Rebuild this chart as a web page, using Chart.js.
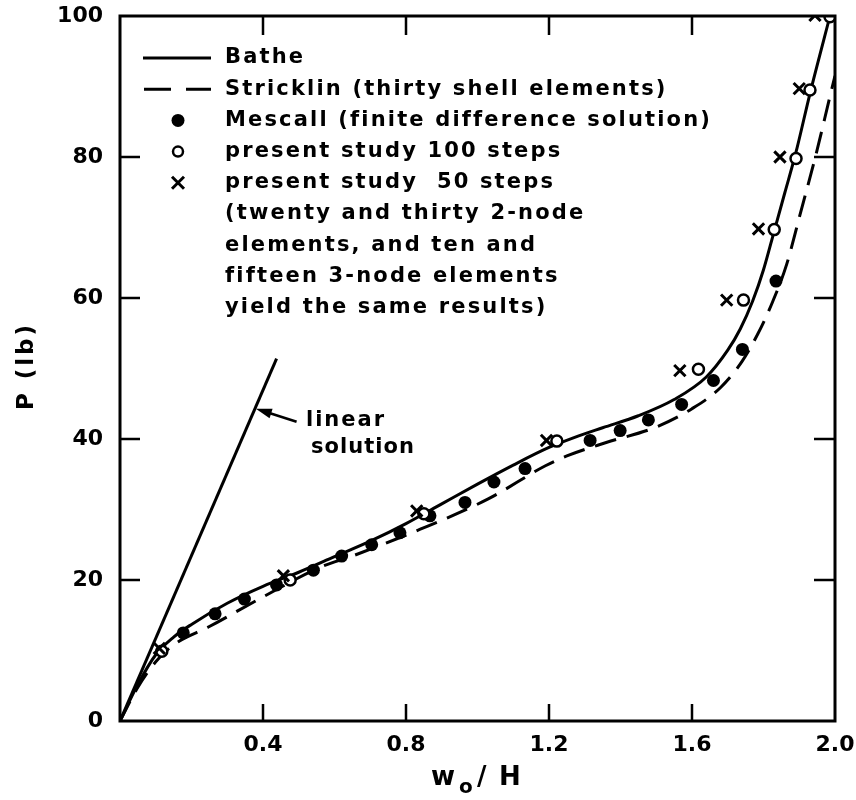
<!DOCTYPE html>
<html>
<head>
<meta charset="utf-8">
<script src="https://cdn.jsdelivr.net/npm/chart.js"></script>
<style>
  body { margin: 0; background: #fff; }
  canvas { display: block; }
</style>
</head>
<body>
<canvas id="chart" width="856" height="800"></canvas>
<script>
// Courbes (w0/H, P en lb)
const batheX = [0, 0.05, 0.1, 0.15, 0.2, 0.3, 0.4, 0.5, 0.6, 0.7, 0.8, 0.9, 1.0, 1.1, 1.2, 1.27, 1.35, 1.45, 1.55, 1.64, 1.7, 1.735, 1.77, 1.8, 1.83, 1.86, 1.89, 1.93, 1.986];
const batheP = [0, 5.2, 9.4, 11.9, 13.7, 16.7, 19.1, 21.1, 23.3, 25.5, 28.0, 30.8, 33.6, 36.3, 38.8, 40.2, 41.6, 43.3, 45.6, 48.8, 52.6, 55.6, 59.6, 64.0, 69.5, 75.0, 80.5, 89.0, 100];

const stricklinX = [0, 0.05, 0.1, 0.15, 0.25, 0.4, 0.56, 0.65, 0.84, 1.03, 1.19, 1.25, 1.36, 1.5, 1.6, 1.68, 1.74, 1.785, 1.825, 1.865, 1.9, 1.95, 1.985, 2.0];
const stricklinP = [0, 4.8, 8.4, 10.8, 13.4, 17.6, 21.8, 23.4, 27.2, 31.5, 36.2, 37.6, 39.5, 41.7, 44.3, 47.3, 51.0, 55.0, 59.4, 64.8, 71.4, 81.0, 88.4, 91.5];

const linearX = [0, 0.438];
const linearP = [0, 51.4];

const mescallX = [0.177, 0.266, 0.348, 0.438, 0.541, 0.62, 0.704, 0.783, 0.867, 0.965, 1.046, 1.133, 1.315, 1.399, 1.478, 1.571, 1.66, 1.741, 1.835];
const mescallP = [12.5, 15.2, 17.3, 19.3, 21.4, 23.4, 25.0, 26.7, 29.1, 31.0, 33.9, 35.8, 39.8, 41.2, 42.7, 44.9, 48.3, 52.7, 62.4];

const steps100X = [0.117, 0.476, 0.85, 1.222, 1.618, 1.744, 1.83, 1.891, 1.93, 1.986];
const steps100P = [9.9, 20.0, 29.4, 39.7, 49.9, 59.7, 69.7, 79.8, 89.5, 99.9];

const steps50X = [0.11, 0.457, 0.83, 1.193, 1.566, 1.697, 1.786, 1.846, 1.9, 1.944];
const steps50P = [10.3, 20.6, 29.8, 39.8, 49.7, 59.7, 69.8, 80.0, 89.7, 100.1];

const xTicks = [0.4, 0.8, 1.2, 1.6, 2.0];
const yTicks = [0, 20, 40, 60, 80, 100];

const legendLabels = [
    'Bathe',
    'Stricklin (thirty shell elements)',
    'Mescall (finite difference solution)',
    'present study 100 steps',
    'present study  50 steps',
    '(twenty and thirty 2-node',
    'elements, and ten and',
    'fifteen 3-node elements',
    'yield the same results)'
];
const legendSymbols = ['line', 'dash', 'dot', 'circle', 'cross', '', '', '', ''];

const fontFamily = '"DejaVu Sans", sans-serif';

const toPoints = (xs, ys) => xs.map((x, i) => ({ x: x, y: ys[i] }));

// écrit un texte en ajustant l'espacement pour tenir dans une largeur donnée
const fitText = (ctx, text, x, y, width) => {
    ctx.letterSpacing = '0px';
    const w = ctx.measureText(text).width;
    ctx.letterSpacing = Math.max(0, (width - w) / text.length) + 'px';
    ctx.fillText(text, x, y);
    ctx.letterSpacing = '0px';
};

// Dessin du cadre, des graduations internes, de la légende et des annotations
const decorPlugin = {
    id: 'decor',
    afterDraw(chart) {
        const ctx = chart.ctx;
        const area = chart.chartArea;
        const xs = chart.scales.x;
        const ys = chart.scales.y;

        ctx.save();
        ctx.strokeStyle = '#000';
        ctx.fillStyle = '#000';
        ctx.lineWidth = 3;
        ctx.strokeRect(area.left, area.top, area.right - area.left, area.bottom - area.top);

        // graduations vers l'intérieur
        ctx.lineWidth = 2.5;
        xTicks.forEach(v => {
            if (v <= 0 || v >= 2) return;
            const px = xs.getPixelForValue(v);
            ctx.beginPath();
            ctx.moveTo(px, area.bottom); ctx.lineTo(px, area.bottom - 17);
            ctx.moveTo(px, area.top); ctx.lineTo(px, area.top + 19);
            ctx.stroke();
        });
        yTicks.forEach(v => {
            if (v <= 0 || v >= 100) return;
            const py = ys.getPixelForValue(v);
            ctx.beginPath();
            ctx.moveTo(area.left, py); ctx.lineTo(area.left + 20, py);
            ctx.moveTo(area.right, py); ctx.lineTo(area.right - 21, py);
            ctx.stroke();
        });

        // légende
        ctx.font = 'bold 21px ' + fontFamily;
        ctx.textBaseline = 'middle';
        ctx.textAlign = 'left';
        ctx.letterSpacing = '0px';
        const ref = legendLabels[2];
        const spacing = (485 - ctx.measureText(ref).width) / ref.length;
        legendLabels.forEach((label, i) => {
            const y = 58 + i * 31.2;
            const sym = legendSymbols[i];
            ctx.letterSpacing = '0px';
            ctx.lineWidth = 3;
            if (sym === 'line') {
                ctx.beginPath(); ctx.moveTo(143, y); ctx.lineTo(211, y); ctx.stroke();
            } else if (sym === 'dash') {
                ctx.beginPath();
                ctx.moveTo(144, y); ctx.lineTo(171, y);
                ctx.moveTo(186, y); ctx.lineTo(211, y);
                ctx.stroke();
            } else if (sym === 'dot') {
                ctx.beginPath(); ctx.arc(178, y, 6.5, 0, Math.PI * 2); ctx.fill();
            } else if (sym === 'circle') {
                ctx.lineWidth = 2.5;
                ctx.beginPath(); ctx.arc(178, y, 5, 0, Math.PI * 2); ctx.stroke();
            } else if (sym === 'cross') {
                ctx.lineWidth = 3;
                ctx.beginPath();
                ctx.moveTo(172, y - 6); ctx.lineTo(184, y + 6);
                ctx.moveTo(184, y - 6); ctx.lineTo(172, y + 6);
                ctx.stroke();
            }
            ctx.letterSpacing = spacing + 'px';
            ctx.fillText(label, 225, y);
        });
        ctx.letterSpacing = '0px';

        // flèche "linear solution"
        const tipX = xs.getPixelForValue(0.38), tipY = ys.getPixelForValue(44.3);
        const tailX = xs.getPixelForValue(0.494), tailY = ys.getPixelForValue(42.45);
        const ang = Math.atan2(tipY - tailY, tipX - tailX);
        ctx.lineWidth = 2.5;
        ctx.beginPath(); ctx.moveTo(tailX, tailY); ctx.lineTo(tipX - 10 * Math.cos(ang), tipY - 10 * Math.sin(ang)); ctx.stroke();
        ctx.beginPath();
        ctx.moveTo(tipX, tipY);
        ctx.lineTo(tipX - 16 * Math.cos(ang) + 5 * Math.sin(ang), tipY - 16 * Math.sin(ang) - 5 * Math.cos(ang));
        ctx.lineTo(tipX - 16 * Math.cos(ang) - 5 * Math.sin(ang), tipY - 16 * Math.sin(ang) + 5 * Math.cos(ang));
        ctx.closePath(); ctx.fill();
        fitText(ctx, 'linear', 306, 421, 80);
        fitText(ctx, 'solution', 311, 448, 104);

        // titre de l'axe x : w0 / H
        ctx.font = 'bold 26px ' + fontFamily;
        ctx.fillText('w', 431, 778);
        ctx.font = 'bold 20px ' + fontFamily;
        ctx.fillText('o', 459, 788);
        ctx.font = 'bold 26px ' + fontFamily;
        ctx.fillText('/', 477, 778);
        ctx.fillText('H', 499, 778);

        // titre de l'axe y
        ctx.translate(27, 366);
        ctx.rotate(-Math.PI / 2);
        ctx.font = 'bold 23px ' + fontFamily;
        fitText(ctx, 'P (lb)', -44, 0, 88);
        ctx.restore();
    }
};

const data = {
    datasets: [
        {
            label: 'present study 50 steps',
            data: toPoints(steps50X, steps50P),
            pointStyle: 'crossRot',
            pointRadius: 8,
            borderColor: '#000',
            borderWidth: 3,
            showLine: false,
            order: 0
        },
        {
            label: 'present study 100 steps',
            data: toPoints(steps100X, steps100P),
            pointStyle: 'circle',
            pointRadius: 5.5,
            backgroundColor: '#fff',
            borderColor: '#000',
            borderWidth: 2.5,
            showLine: false,
            order: 1
        },
        {
            label: 'Mescall (finite difference solution)',
            data: toPoints(mescallX, mescallP),
            pointStyle: 'circle',
            pointRadius: 6.5,
            backgroundColor: '#000',
            borderColor: '#000',
            borderWidth: 0,
            showLine: false,
            order: 2
        },
        {
            label: 'Bathe',
            data: toPoints(batheX, batheP),
            showLine: true,
            borderColor: '#000',
            borderWidth: 3,
            pointRadius: 0,
            cubicInterpolationMode: 'monotone',
            order: 3
        },
        {
            label: 'Stricklin (thirty shell elements)',
            data: toPoints(stricklinX, stricklinP),
            showLine: true,
            borderColor: '#000',
            borderWidth: 3,
            borderDash: [22, 11],
            pointRadius: 0,
            cubicInterpolationMode: 'monotone',
            order: 4
        },
        {
            label: 'linear solution',
            data: toPoints(linearX, linearP),
            showLine: true,
            borderColor: '#000',
            borderWidth: 3,
            pointRadius: 0,
            order: 5
        }
    ]
};

const config = {
    type: 'scatter',
    data: data,
    options: {
        responsive: false,
        animation: false,
        layout: { padding: { top: 16, right: 21, left: 0, bottom: 0 } },
        plugins: {
            legend: { display: false },
            tooltip: { enabled: false }
        },
        scales: {
            x: {
                type: 'linear',
                min: 0,
                max: 2,
                afterFit: scale => {
                    scale.height = 79;
                    scale.paddingLeft = 0;
                    scale.paddingRight = 0;
                },
                afterBuildTicks: scale => { scale.ticks = xTicks.map(v => ({ value: v })); },
                grid: { display: false },
                border: { display: false },
                ticks: {
                    padding: 3,
                    color: '#000',
                    font: { family: fontFamily, size: 22, weight: 'bold' },
                    callback: v => v.toFixed(1)
                }
            },
            y: {
                type: 'linear',
                min: 0,
                max: 100,
                afterFit: scale => {
                    scale.width = 120;
                    scale.paddingTop = 0;
                    scale.paddingBottom = 0;
                },
                afterBuildTicks: scale => { scale.ticks = yTicks.map(v => ({ value: v })); },
                grid: { display: false },
                border: { display: false },
                ticks: {
                    padding: 9,
                    color: '#000',
                    font: { family: fontFamily, size: 22, weight: 'bold' },
                    callback: v => String(v)
                }
            }
        }
    },
    plugins: [decorPlugin]
};

document.addEventListener('DOMContentLoaded', () => {
    const ctx = document.getElementById('chart').getContext('2d');
    new Chart(ctx, config);
});
</script>
</body>
</html>
